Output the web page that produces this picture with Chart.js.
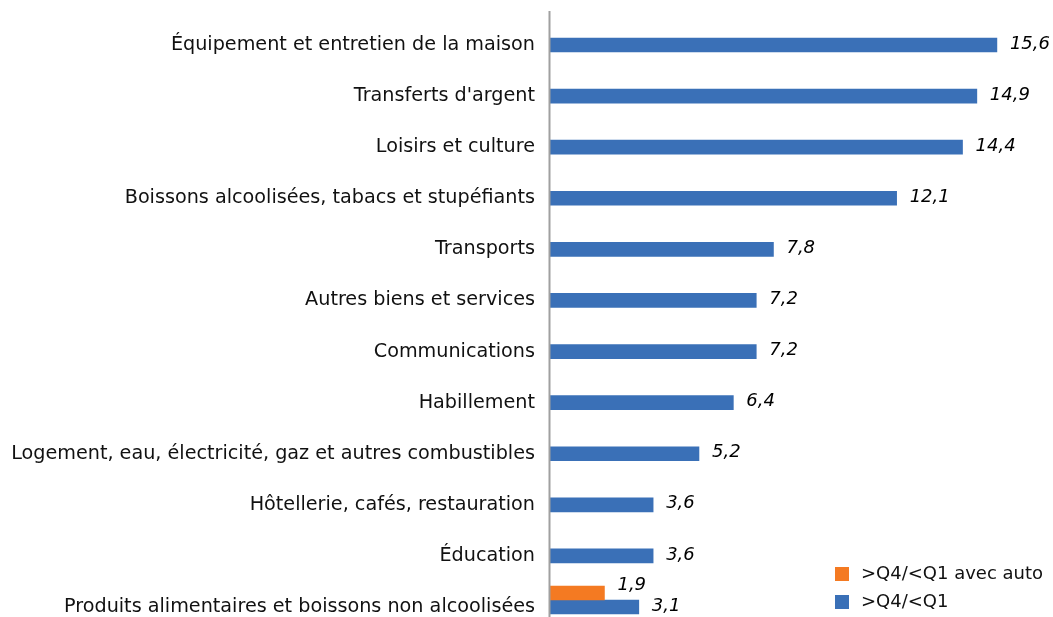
<!DOCTYPE html>
<html lang="fr">
<head>
<meta charset="utf-8">
<title>Rapport interdécile par poste de dépense</title>
<script src="https://cdn.jsdelivr.net/npm/chart.js@4.4.1/dist/chart.umd.min.js"></script>
<style>
  html, body { margin: 0; padding: 0; background: #ffffff; overflow: hidden; }
  #wrap { position: relative; width: 1053px; height: 617px; }
</style>
</head>
<body>
<div id="wrap"><canvas id="ratioChart"></canvas></div>
<script>
// Data
const categories = [
  'Équipement et entretien de la maison',
  "Transferts d'argent",
  'Loisirs et culture',
  'Boissons alcoolisées, tabacs et stupéfiants',
  'Transports',
  'Autres biens et services',
  'Communications',
  'Habillement',
  'Logement, eau, électricité, gaz et autres combustibles',
  'Hôtellerie, cafés, restauration',
  'Éducation',
  'Produits alimentaires et boissons non alcoolisées'
];
const seriesNames = ['>Q4/<Q1 avec auto', '>Q4/<Q1'];
const ratioAvecAuto = [null, null, null, null, null, null, null, null, null, null, null, 1.9];
const ratioQ4Q1 = [15.6, 14.9, 14.4, 12.1, 7.8, 7.2, 7.2, 6.4, 5.2, 3.6, 3.6, 3.1];
const xMax = 17;

const ORANGE = '#f47a22';
const BLUE = '#3a70b7';
const FONT = "'DejaVu Sans', sans-serif";

/* ---- plugins ---- */

// orange bar sits just above the blue one in its category
const stackAbovePlugin = {
  id: 'stackAbove',
  afterDatasetsUpdate(chart) {
    const meta = chart.getDatasetMeta(0);
    meta.data.forEach(el => { el.y -= el.height; });
  }
};

// vertical axis line running the full plot height
const axisLinePlugin = {
  id: 'axisLine',
  afterDatasetsDraw(chart) {
    const ctx = chart.ctx;
    const x = chart.scales.x.getPixelForValue(0) - 0.5;
    ctx.save();
    ctx.strokeStyle = '#a0a0a0';
    ctx.lineWidth = 2;
    ctx.beginPath();
    ctx.moveTo(x, 11);
    ctx.lineTo(x, chart.height);
    ctx.stroke();
    ctx.restore();
  }
};

// value labels at the end of each bar
const valueLabelPlugin = {
  id: 'valueLabels',
  afterDatasetsDraw(chart) {
    const ctx = chart.ctx;
    const yShift = [-8, -1];
    ctx.save();
    ctx.font = 'italic 18px ' + FONT;
    ctx.fillStyle = '#000000';
    ctx.textAlign = 'left';
    ctx.textBaseline = 'middle';
    chart.data.datasets.forEach((ds, i) => {
      chart.getDatasetMeta(i).data.forEach((el, j) => {
        const v = ds.data[j];
        if (v === null || v === undefined) return;
        const txt = v.toLocaleString('fr-FR', { minimumFractionDigits: 1 });
        ctx.fillText(txt, el.x + 13, el.y + yShift[i]);
      });
    });
    ctx.restore();
  }
};

// legend in the bottom right corner
const cornerLegendPlugin = {
  id: 'cornerLegend',
  afterDraw(chart) {
    const ctx = chart.ctx;
    const left = 835, top = 567, box = 14, rowGap = 28;
    ctx.save();
    ctx.font = '18px ' + FONT;
    ctx.textBaseline = 'middle';
    ctx.textAlign = 'left';
    chart.data.datasets.forEach((ds, i) => {
      const y = top + i * rowGap;
      ctx.fillStyle = ds.backgroundColor;
      ctx.fillRect(left, y, box, box);
      ctx.fillStyle = '#111111';
      ctx.fillText(ds.label, left + box + 12, y + box / 2);
    });
    ctx.restore();
  }
};

/* ---- chart ---- */
const ctx = document.getElementById('ratioChart').getContext('2d');
new Chart(ctx, {
  type: 'bar',
  data: {
    labels: categories,
    datasets: [
      {
        label: seriesNames[0],
        data: ratioAvecAuto,
        backgroundColor: ORANGE,
        barThickness: 14,
        grouped: false,
        clip: false
      },
      {
        label: seriesNames[1],
        data: ratioQ4Q1,
        backgroundColor: BLUE,
        barThickness: 14,
        grouped: false,
        clip: false
      }
    ]
  },
  options: {
    indexAxis: 'y',
    responsive: true,
    maintainAspectRatio: false,
    animation: false,
    layout: {
      padding: { top: 45, bottom: 10, left: 0, right: 16 }
    },
    plugins: {
      legend: { display: false },
      tooltip: { enabled: false }
    },
    scales: {
      x: {
        display: false,
        min: 0,
        max: xMax
      },
      y: {
        offset: false,
        grid: { display: false, drawTicks: false },
        border: { display: false },
        afterFit(scale) {
          scale.width = 550;
          scale.paddingTop = 0;
          scale.paddingBottom = 0;
        },
        ticks: {
          padding: 15,
          color: '#111111',
          font: { family: FONT, size: 19.2 }
        }
      }
    }
  },
  plugins: [stackAbovePlugin, axisLinePlugin, valueLabelPlugin, cornerLegendPlugin]
});
</script>
</body>
</html>
